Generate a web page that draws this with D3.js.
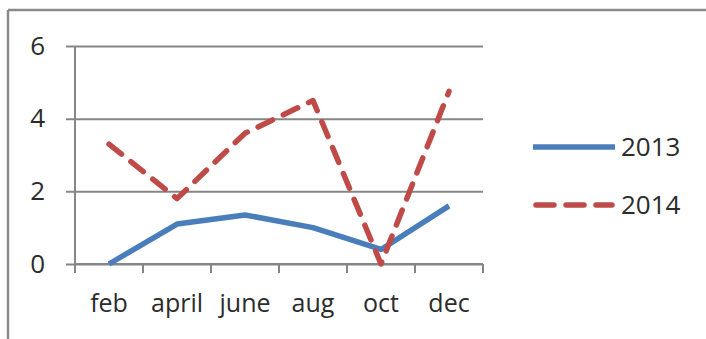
<!DOCTYPE html>
<html>
<head>
<meta charset="utf-8">
<script src="https://cdn.jsdelivr.net/npm/d3@7"></script>
<style>
  html, body { margin: 0; padding: 0; background: #fff; }
  svg text { font-family: "Open Sans", "Liberation Sans", sans-serif; fill: #2b2b2b; }
</style>
</head>
<body>
<svg id="chart" width="706" height="339"></svg>
<script>
// Monthly readings for two years
const months = ["feb", "april", "june", "aug", "oct", "dec"];
const values2013 = [0, 1.1, 1.35, 1.0, 0.4, 1.6];
const values2014 = [3.3, 1.8, 3.6, 4.5, 0, 4.75];
const yTicks = [0, 2, 4, 6];
const seriesNames = ["2013", "2014"];

const svg = d3.select("#chart");

// Frame: top and left edges
svg.append("line").attr("x1", 8).attr("x2", 706).attr("y1", 10).attr("y2", 10)
  .attr("stroke", "#8a8a8a").attr("stroke-width", 2.5);
svg.append("line").attr("x1", 8).attr("x2", 8).attr("y1", 10).attr("y2", 339)
  .attr("stroke", "#8a8a8a").attr("stroke-width", 2.5);

const plot = { left: 75, right: 483, top: 46, bottom: 264 };

const x = d3.scaleBand().domain(months).range([plot.left, plot.right]);
const y = d3.scaleLinear().domain([0, 6]).range([plot.bottom, plot.top]);

// Horizontal gridlines with outward ticks
svg.append("g")
  .attr("transform", `translate(${plot.left},0)`)
  .call(d3.axisLeft(y).tickValues(yTicks).tickFormat(d3.format("d"))
    .tickSize(-(plot.right - plot.left)).tickSizeOuter(0).tickPadding(30))
  .call(g => g.select(".domain").remove())
  .call(g => g.selectAll(".tick line").attr("x1", -9).attr("stroke", "#868686").attr("stroke-width", 2))
  .call(g => g.selectAll(".tick text").attr("font-size", 26).attr("fill", "#2b2b2b"));

// Vertical axis line
svg.append("line")
  .attr("x1", plot.left).attr("x2", plot.left)
  .attr("y1", plot.top).attr("y2", plot.bottom + 9)
  .attr("stroke", "#868686").attr("stroke-width", 2);

// Category axis with boundary ticks
const xAxis = svg.append("g").attr("transform", `translate(0,${plot.bottom})`);
xAxis.append("line").attr("x1", plot.left).attr("x2", plot.right)
  .attr("stroke", "#868686").attr("stroke-width", 2);
const bounds = months.map(m => x(m)).concat([plot.right]);
xAxis.selectAll(".bt").data(bounds).join("line")
  .attr("x1", d => d).attr("x2", d => d).attr("y1", 0).attr("y2", 9)
  .attr("stroke", "#868686").attr("stroke-width", 2);
xAxis.selectAll("text").data(months).join("text")
  .attr("x", d => x(d) + x.bandwidth() / 2)
  .attr("y", 48)
  .attr("text-anchor", "middle")
  .attr("font-size", 25)
  .text(d => d);

const line = d3.line()
  .x((d, i) => x(months[i]) + x.bandwidth() / 2)
  .y(d => y(d));

svg.append("path").datum(values2013)
  .attr("d", line).attr("fill", "none")
  .attr("stroke", "#4a7ebb").attr("stroke-width", 5.5)
  .attr("stroke-linejoin", "round");

svg.append("path").datum(values2014)
  .attr("d", line).attr("fill", "none")
  .attr("stroke", "#be4b48").attr("stroke-width", 5.5)
  .attr("stroke-dasharray", "16,12")
  .attr("stroke-linecap", "round")
  .attr("stroke-linejoin", "round");

// Legend
const legend = svg.append("g");
const legendStyles = [
  { color: "#4a7ebb", dash: null, cap: "butt" },
  { color: "#be4b48", dash: "18,12", cap: "round" }
];
seriesNames.forEach((name, i) => {
  const ly = 147 + i * 58;
  legend.append("line")
    .attr("x1", 533 + (i ? 3 : 0)).attr("x2", 615 - (i ? 3 : 0)).attr("y1", ly).attr("y2", ly)
    .attr("stroke", legendStyles[i].color).attr("stroke-width", 5.5)
    .attr("stroke-dasharray", legendStyles[i].dash)
    .attr("stroke-linecap", legendStyles[i].cap);
  legend.append("text")
    .attr("x", 621).attr("y", ly + 9)
    .attr("font-size", 26)
    .text(name);
});
</script>
</body>
</html>
